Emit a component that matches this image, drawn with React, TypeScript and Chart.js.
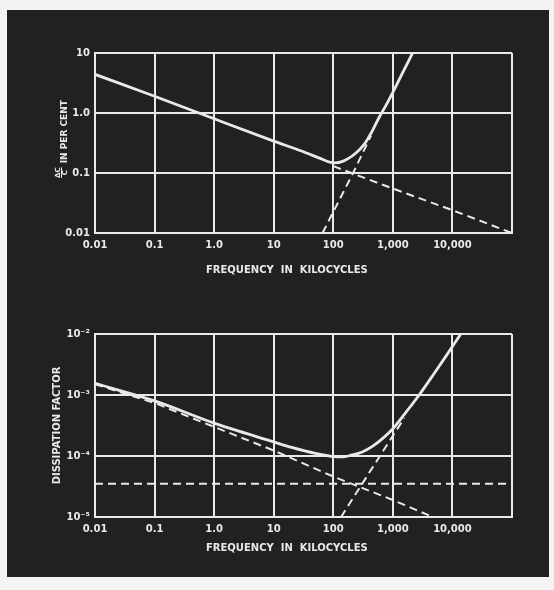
import React, { useEffect, useRef } from 'react';
import { Chart, registerables } from 'chart.js';

Chart.register(...registerables);

// ---- axis ticks ----
const FREQ_TICKS = [0.01, 0.1, 1, 10, 100, 1000, 10000, 100000];
const FREQ_LABELS = ['0.01', '0.1', '1.0', '10', '100', '1,000', '10,000', ''];

const PCT_TICKS = [0.01, 0.1, 1, 10];
const PCT_LABELS = ['0.01', '0.1', '1.0', '10'];

const DF_TICKS = [1e-5, 1e-4, 1e-3, 1e-2];
const DF_LABELS = ['10⁻⁵', '10⁻⁴', '10⁻³', '10⁻²'];

// ---- top panel: ΔC/C in per cent ----
const TOP_TOTAL_FREQ = [0.01, 0.1, 1, 10, 30, 60, 90, 110, 140, 180, 240, 330, 450, 590, 800, 1000, 1400, 2140];
const TOP_TOTAL_PCT = [4.4, 1.9, 0.8, 0.34, 0.23, 0.175, 0.15, 0.148, 0.155, 0.175, 0.215, 0.3, 0.5, 0.85, 1.45, 2.2, 4.3, 10];
const TOP_LOWF_FREQ = [100, 1000, 10000, 100000];
const TOP_LOWF_PCT = [0.13, 0.055, 0.024, 0.01];
const TOP_HIGHF_FREQ = [66, 215, 430];
const TOP_HIGHF_PCT = [0.01, 0.1, 0.42];

// ---- bottom panel: dissipation factor ----
const BOT_TOTAL_FREQ = [0.01, 0.1, 1, 10, 20, 50, 100, 150, 200, 300, 460, 700, 1000, 1500, 2000, 2760, 5000, 8000, 13800];
const BOT_TOTAL_DF = [1.55e-3, 8.0e-4, 3.45e-4, 1.7e-4, 1.38e-4, 1.1e-4, 9.8e-5, 9.7e-5, 1.03e-4, 1.15e-4, 1.45e-4, 2.0e-4, 2.8e-4, 4.6e-4, 6.6e-4, 1e-3, 2.3e-3, 4.5e-3, 1e-2];
const BOT_LOWF_FREQ = [0.01, 0.1, 1, 10, 100, 1000, 4650];
const BOT_LOWF_DF = [1.5e-3, 7.4e-4, 3.0e-4, 1.23e-4, 4.6e-5, 1.9e-5, 1e-5];
const BOT_CONST_FREQ = [0.01, 100000];
const BOT_CONST_DF = [3.5e-5, 3.5e-5];
const BOT_HIGHF_FREQ = [135, 400, 1000, 1560];
const BOT_HIGHF_DF = [1e-5, 5.3e-5, 2.15e-4, 4.2e-4];

const INK = '#e9e9e9';
const FONT = 'DejaVu Sans';

const pts = (xs: number[], ys: number[]) => xs.map((x, i) => ({ x, y: ys[i] }));

const titlesPlugin = {
  id: 'panelTitles',
  afterDraw(chart: any, _args: any, opts: any) {
    const { ctx, chartArea } = chart;
    ctx.save();
    ctx.fillStyle = INK;
    ctx.strokeStyle = INK;
    ctx.textBaseline = 'middle';
    ctx.textAlign = 'center';
    ctx.font = `bold 10px "${FONT}"`;
    ctx.fillText(
      opts.xText,
      chartArea.left + opts.xFrac * (chartArea.right - chartArea.left),
      chartArea.bottom + opts.xGap
    );
    ctx.translate(opts.yX, (chartArea.top + chartArea.bottom) / 2 + opts.yShift);
    ctx.rotate(-Math.PI / 2);
    if (opts.fraction) {
      ctx.font = `bold 9px "${FONT}"`;
      const mainW = ctx.measureText(opts.yText).width;
      ctx.font = `bold 7px "${FONT}"`;
      const fw = ctx.measureText(opts.fraction[0]).width;
      const gap = 4;
      const total = fw + gap + mainW;
      const u0 = -total / 2;
      ctx.textAlign = 'center';
      ctx.fillText(opts.fraction[0], u0 + fw / 2, -7);
      ctx.fillText(opts.fraction[1], u0 + fw / 2, 0.5);
      ctx.lineWidth = 1;
      ctx.beginPath();
      ctx.moveTo(u0, -3.5);
      ctx.lineTo(u0 + fw, -3.5);
      ctx.stroke();
      ctx.font = `bold 9px "${FONT}"`;
      ctx.textAlign = 'left';
      ctx.fillText(opts.yText, u0 + fw + gap, 0);
    } else {
      ctx.font = `bold 10px "${FONT}"`;
      ctx.fillText(opts.yText, 0, 0);
    }
    ctx.restore();
  },
};

function logAxis(min: number, max: number, ticks: number[], labels: string[], isX: boolean) {
  return {
    type: 'logarithmic',
    min,
    max,
    afterBuildTicks: (scale: any) => {
      scale.ticks = ticks.map((v) => ({ value: v }));
    },
    afterFit: (scale: any) => {
      if (isX) scale.height = 20;
      else scale.width = 30;
    },
    ticks: {
      autoSkip: false,
      maxRotation: 0,
      minRotation: 0,
      padding: isX ? 6 : 5,
      color: INK,
      font: { family: FONT, weight: 'bold', size: 10 },
      callback: (_v: any, i: number) => labels[i],
    },
    grid: { color: INK, lineWidth: 2, drawTicks: false },
    border: { display: true, color: INK, width: 2 },
  };
}

function lineSet(data: any[], dashed: boolean, smooth: boolean) {
  return {
    data,
    showLine: true,
    borderColor: INK,
    backgroundColor: INK,
    borderWidth: dashed ? 2 : 2.8,
    borderDash: dashed ? [8, 5] : [],
    pointRadius: 0,
    tension: smooth ? 0.4 : 0,
    cubicInterpolationMode: smooth ? 'monotone' : 'default',
    fill: false,
  };
}

function makeConfig(kind: 'top' | 'bottom'): any {
  const top = kind === 'top';
  const datasets = top
    ? [
        lineSet(pts(TOP_TOTAL_FREQ, TOP_TOTAL_PCT), false, true),
        lineSet(pts(TOP_LOWF_FREQ, TOP_LOWF_PCT), true, false),
        lineSet(pts(TOP_HIGHF_FREQ, TOP_HIGHF_PCT), true, false),
      ]
    : [
        lineSet(pts(BOT_TOTAL_FREQ, BOT_TOTAL_DF), false, true),
        lineSet(pts(BOT_LOWF_FREQ, BOT_LOWF_DF), true, false),
        lineSet(pts(BOT_CONST_FREQ, BOT_CONST_DF), true, false),
        lineSet(pts(BOT_HIGHF_FREQ, BOT_HIGHF_DF), true, false),
      ];
  return {
    type: 'scatter',
    data: { datasets },
    plugins: [titlesPlugin],
    options: {
      responsive: false,
      animation: false,
      devicePixelRatio: 1,
      layout: {
        padding: top
          ? { left: 65, right: 42, top: 53, bottom: 42 }
          : { left: 65, right: 42, top: 39, bottom: 53 },
      },
      scales: {
        x: logAxis(0.01, 100000, FREQ_TICKS, FREQ_LABELS, true),
        y: top
          ? logAxis(0.01, 10, PCT_TICKS, PCT_LABELS, false)
          : logAxis(1e-5, 1e-2, DF_TICKS, DF_LABELS, false),
      },
      plugins: {
        legend: { display: false },
        tooltip: { enabled: false },
        panelTitles: top
          ? { xText: 'FREQUENCY  IN  KILOCYCLES', xFrac: 0.46, xGap: 37, yX: 65, yShift: -4, yText: 'IN PER CENT', fraction: ['ΔC', 'C'] }
          : { xText: 'FREQUENCY  IN  KILOCYCLES', xFrac: 0.46, xGap: 31, yX: 57, yShift: 0, yText: 'DISSIPATION FACTOR' },
      },
    },
  };
}

function Panel({ kind, top }: { kind: 'top' | 'bottom'; top: number }) {
  const ref = useRef<HTMLCanvasElement | null>(null);
  useEffect(() => {
    if (!ref.current) return;
    const chart = new Chart(ref.current, makeConfig(kind));
    return () => chart.destroy();
  }, [kind]);
  return (
    <canvas
      ref={ref}
      width={554}
      height={295}
      style={{ position: 'absolute', left: 0, top, width: 554, height: 295 }}
    />
  );
}

export default function App() {
  return (
    <div style={{ position: 'fixed', left: 0, top: 0, width: 554, height: 590, background: '#f3f3f3', overflow: 'hidden' }}>
      <div style={{ position: 'absolute', left: 7, top: 10, width: 542, height: 567, background: '#212121' }} />
      <Panel kind="top" top={0} />
      <Panel kind="bottom" top={295} />
    </div>
  );
}
